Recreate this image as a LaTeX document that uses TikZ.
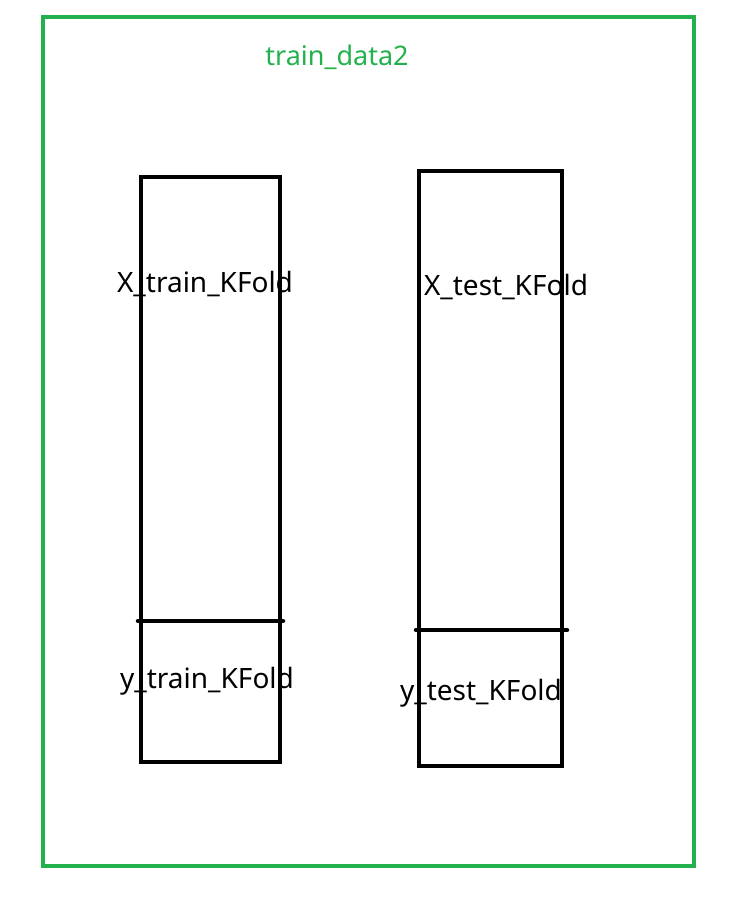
\documentclass[tikz,border=0pt]{standalone}
\usepackage{fontspec}
\setmainfont{Noto Sans}
\usetikzlibrary{positioning,calc}
\definecolor{paintgreen}{RGB}{34,177,76}

\begin{document}
\begin{tikzpicture}[
  x=1pt, y=-1pt,
  every node/.style={inner sep=0pt, outer sep=0pt},
  frame/.style={draw=paintgreen, line width=4.5pt},
  col/.style={draw=black, line width=4.5pt, anchor=north west},
  split/.style={draw=black, line width=4.5pt, line cap=round},
  lbl/.style={font=\fontsize{28}{32}\selectfont, text=black},
  title/.style={font=\fontsize{27}{31}\selectfont, text=paintgreen}
]
\useasboundingbox (0,0) rectangle (743,897);

% ---------- OUTER FRAME ----------
\node[frame, anchor=north west, minimum width=651pt, minimum height=849pt] (outer) at (43,17) {};
\node[title] (name) at (337,57) {train\_data2};

% ---------- TRAIN COLUMN ----------
\node[col, minimum width=139pt, minimum height=585pt] (train) at (141,177) {};
\coordinate (trainL) at (138,621);
\coordinate (trainR) at (283,621);
\draw[split] (trainL) -- (trainR);
\node[lbl] (xtrain) at (205,284) {X\_train\_KFold};
\node[lbl] (ytrain) at (207,681) {y\_train\_KFold};

% ---------- TEST COLUMN ----------
\node[col, minimum width=143pt, minimum height=595pt] (test) at (419,171) {};
\coordinate (testL) at (416,630);
\coordinate (testR) at (567,630);
\draw[split] (testL) -- (testR);
\node[lbl] (xtest) at (506,287) {X\_test\_KFold};
\node[lbl] (ytest) at (481,693) {y\_test\_KFold};

\end{tikzpicture}
\end{document}
